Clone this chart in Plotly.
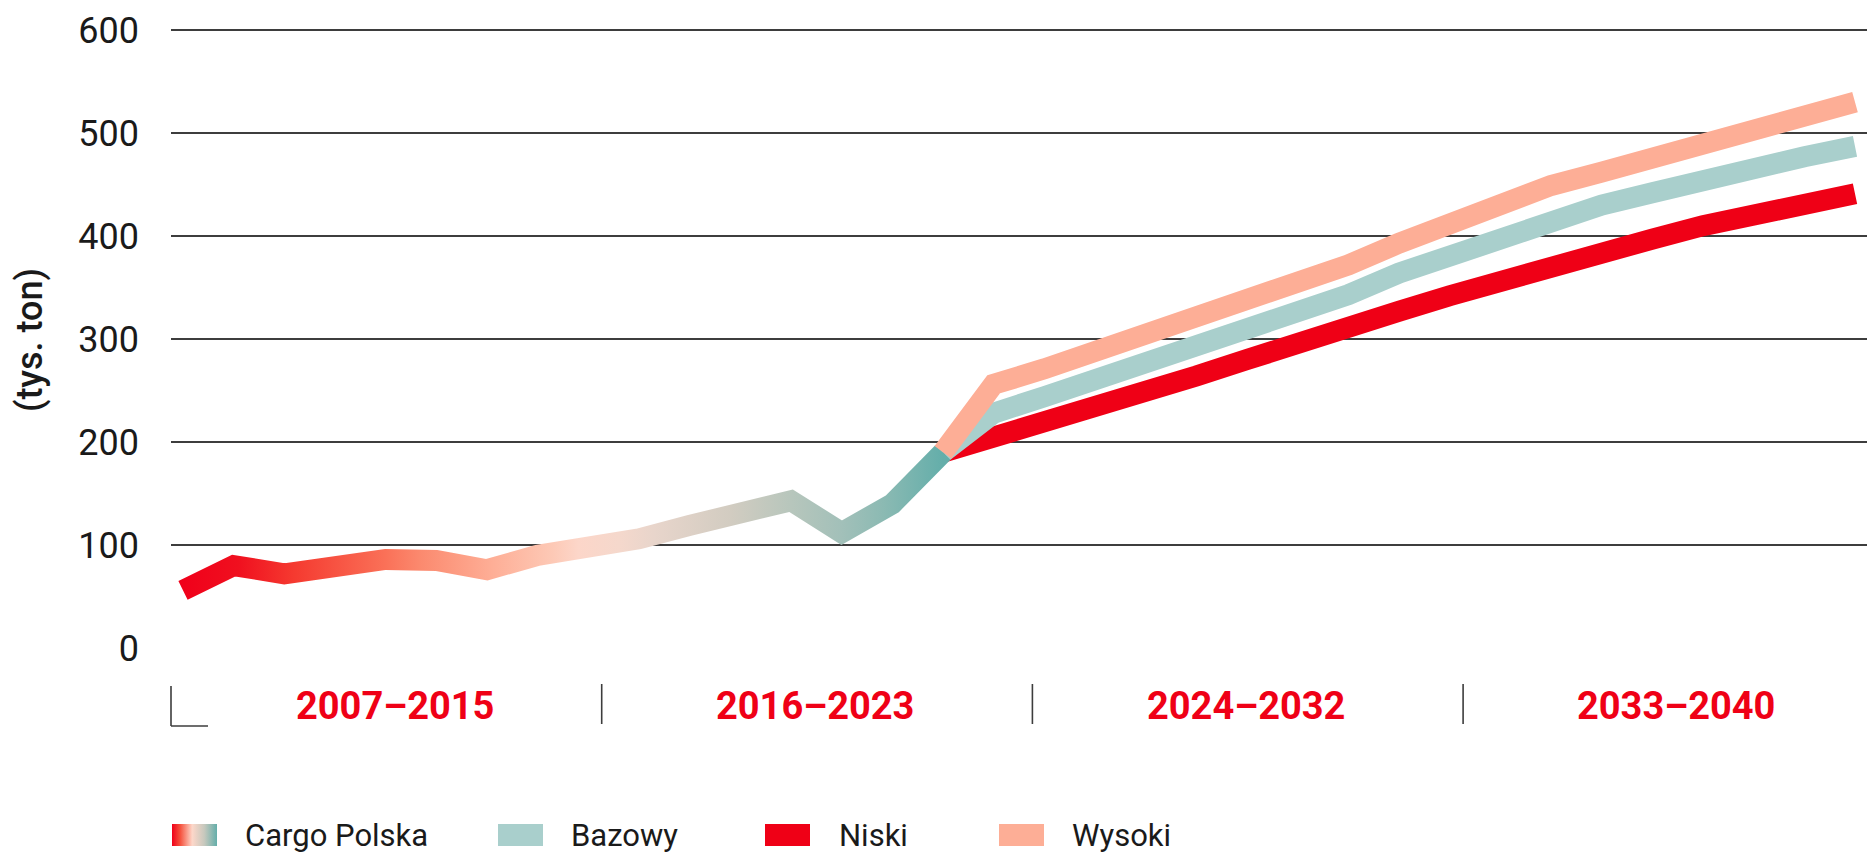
import json
import base64
import plotly.graph_objects as go

# ---------------- data ----------------
years_hist = list(range(2007, 2023))
cargo_polska = [56, 80, 72, 78, 86, 85, 76, 90, 96, 106, 119, 131, 143, 112, 140, 190]

years_fc = list(range(2022, 2041))
bazowy = [190, 228, 244, 260, 276, 292, 307, 322, 343, 364, 381, 398, 414, 430, 442, 455, 467, 477, 487]
niski = [190, 204, 218, 232, 247, 264, 280, 297, 312, 327, 342, 357, 371, 384, 397, 410, 421, 431, 441]
wysoki = [190, 256, 271, 287, 303, 319, 335, 352, 372, 393, 412, 431, 449, 462, 476, 490, 503, 517, 530]

periods = ["2007–2015", "2016–2023", "2024–2032", "2033–2040"]
y_ticks = [0, 100, 200, 300, 400, 500, 600]
grid_values = [100, 200, 300, 400, 500, 600]
legend_names = ["Cargo Polska", "Bazowy", "Niski", "Wysoki"]
y_title = "(tys. ton)"

# ---------------- style ----------------
RED = "#EF0016"
TEAL = "#A9CFCC"
SALMON = "#FDAE96"
GRID = "#3d3d3d"
TEXT = "#1a1a1a"
FONT = "Roboto"
LW = 21

grad_stops = [
    (2007.0, "#F0001A"), (2008.1, "#F0101F"), (2009.2, "#F53A30"), (2011.0, "#FA7158"),
    (2011.7, "#FB8A6F"), (2013.1, "#FEAE96"), (2014.3, "#FDC9B6"), (2014.8, "#FCD6C9"),
    (2015.6, "#F5D8CC"), (2016.3, "#E8D5CB"), (2017.8, "#D2CCC1"), (2019.0, "#B7C6BC"),
    (2020.0, "#A2C0B9"), (2020.8, "#8CBAB3"), (2022.0, "#64AEAA"),
]
legend_grad = [(0.0, "#F0001A"), (0.18, "#F5503C"), (0.45, "#FDD7C9"), (0.72, "#C6C8BD"), (1.0, "#64AEAA")]

# page geometry (page pixels); the page body has an 8px margin
OFF = 8
PAGE_W, PAGE_H = 1875, 853
W, H = PAGE_W - OFF, PAGE_H - OFF
L, R = 171, 1875
T, B = 20, 660
PW, PH = R - L, B - T


def px_x(px):
    return (px - L) / PW


def px_y(py):
    return (B - py) / PH


X_PX_PER_YEAR = 50.667
X0_PX = 183  # pixel of first year
x_range = [years_hist[0] - (X0_PX - L) / X_PX_PER_YEAR, years_hist[0] + (R - X0_PX) / X_PX_PER_YEAR]
Y_PX_PER_UNIT = 1.03
Y0_PX = 648
y_range = [-(B - Y0_PX) / Y_PX_PER_UNIT, (Y0_PX - T) / Y_PX_PER_UNIT]

fig = go.Figure()
fig.add_trace(go.Scatter(x=years_fc, y=niski, mode="lines", name="Niski",
                         line=dict(color=RED, width=LW), showlegend=False, hoverinfo="x+y+name"))
fig.add_trace(go.Scatter(x=years_fc, y=bazowy, mode="lines", name="Bazowy",
                         line=dict(color=TEAL, width=LW), showlegend=False, hoverinfo="x+y+name"))
fig.add_trace(go.Scatter(x=years_hist, y=cargo_polska, mode="lines", name="Cargo Polska",
                         line=dict(color="#D9CFC4", width=LW), showlegend=False, hoverinfo="x+y+name"))
fig.add_trace(go.Scatter(x=years_fc, y=wysoki, mode="lines", name="Wysoki",
                         line=dict(color=SALMON, width=LW), showlegend=False, hoverinfo="x+y+name"))

shapes = []
annotations = []

# period bands: separators and labels
BAND_W = 430.7
for k in range(1, 4):
    xp = px_x(L + k * BAND_W)
    shapes.append(dict(type="line", xref="paper", yref="paper", x0=xp, x1=xp,
                       y0=px_y(684), y1=px_y(724), line=dict(color=GRID, width=1.6)))
# corner mark
shapes.append(dict(type="line", xref="paper", yref="paper", x0=0, x1=0,
                   y0=px_y(686), y1=px_y(726), line=dict(color=GRID, width=1.6)))
shapes.append(dict(type="line", xref="paper", yref="paper", x0=0, x1=px_x(208),
                   y0=px_y(726), y1=px_y(726), line=dict(color=GRID, width=1.6)))

label_cx = [395, 815, 1246, 1676]
for k, lab in enumerate(periods):
    annotations.append(dict(text=lab, xref="paper", yref="paper", x=px_x(label_cx[k]), y=px_y(706),
                            xanchor="center", yanchor="middle", showarrow=False,
                            font=dict(family=FONT, size=38, color=RED, weight="bold")))

# legend (manual)
box_x = [172, 498, 765, 999]
text_x = [243, 569, 837, 1070]
box_cols = [None, TEAL, RED, SALMON]
BOX_W, BOX_TOP, BOX_BOT = 45, 824, 846
for i, name in enumerate(legend_names):
    if box_cols[i] is not None:
        shapes.append(dict(type="rect", xref="paper", yref="paper",
                           x0=px_x(box_x[i]), x1=px_x(box_x[i] + BOX_W),
                           y0=px_y(BOX_BOT), y1=px_y(BOX_TOP),
                           fillcolor=box_cols[i], line=dict(width=0)))
    annotations.append(dict(text=name, xref="paper", yref="paper", x=px_x(text_x[i]), y=px_y(835),
                            xanchor="left", yanchor="middle", showarrow=False,
                            font=dict(family=FONT, size=31, color=TEXT)))

stops_svg = "".join(f"<stop offset='{o}' stop-color='{c}'/>" for o, c in legend_grad)
svg = (f"<svg xmlns='http://www.w3.org/2000/svg' width='90' height='44' viewBox='0 0 90 44' preserveAspectRatio='none'>"
       f"<defs><linearGradient id='g' x1='0' x2='1' y1='0' y2='0'>{stops_svg}</linearGradient></defs>"
       f"<rect width='90' height='44' fill='url(#g)'/></svg>")
src = "data:image/svg+xml;base64," + base64.b64encode(svg.encode()).decode()
images = [dict(source=src, xref="paper", yref="paper", x=px_x(box_x[0]), y=px_y(BOX_TOP),
               sizex=BOX_W / PW, sizey=(BOX_BOT - BOX_TOP) / PH, xanchor="left", yanchor="top",
               sizing="stretch", layer="above")]

fig.update_layout(
    width=W, height=H,
    margin=dict(l=L - OFF, r=PAGE_W - R, t=T - OFF, b=PAGE_H - B, pad=0),
    paper_bgcolor="white", plot_bgcolor="white",
    showlegend=False,
    font=dict(family=FONT, color=TEXT),
    shapes=shapes, annotations=annotations, images=images,
)
fig.update_xaxes(range=x_range, showgrid=False, zeroline=False, showticklabels=False,
                 ticks="", showline=False, fixedrange=True)
fig.update_yaxes(range=y_range, tickmode="array", tickvals=y_ticks, ticktext=[str(v) for v in y_ticks],
                 showgrid=False, zeroline=False, showline=False, ticks="",
                 tickfont=dict(family=FONT, size=36, color=TEXT), ticklabelstandoff=31,
                 minor=dict(tickmode="array", tickvals=grid_values, showgrid=True,
                            gridcolor=GRID, gridwidth=1.6, ticks=""),
                 title=dict(text=y_title, font=dict(family=FONT, size=36, color=TEXT, weight=500), standoff=24),
                 fixedrange=True)

t0, t1 = years_hist[0], years_hist[-1]
js_stops = json.dumps([[(y - t0) / (t1 - t0), c] for y, c in grad_stops])
post = """
var gd = document.getElementById('{plot_id}');
var ns = 'http://www.w3.org/2000/svg';
var svg = gd.querySelector('.main-svg');
var defs = svg.querySelector('defs');
if (!defs) { defs = document.createElementNS(ns, 'defs'); svg.insertBefore(defs, svg.firstChild); }
var lg = document.createElementNS(ns, 'linearGradient');
lg.setAttribute('id', 'cpgrad');
lg.setAttribute('x1', '0'); lg.setAttribute('x2', '1'); lg.setAttribute('y1', '0'); lg.setAttribute('y2', '0');
STOPS.forEach(function(s){
  var st = document.createElementNS(ns, 'stop');
  st.setAttribute('offset', s[0]); st.setAttribute('stop-color', s[1]);
  lg.appendChild(st);
});
defs.appendChild(lg);
var traces = gd.querySelectorAll('.scatterlayer .trace');
if (traces.length > 2) {
  var p = traces[2].querySelector('path.js-line');
  if (p) { p.style.stroke = 'url(#cpgrad)'; }
}
""".replace("STOPS", js_stops)

fig.write_html("out.html", post_script=post, config={"displayModeBar": False})
